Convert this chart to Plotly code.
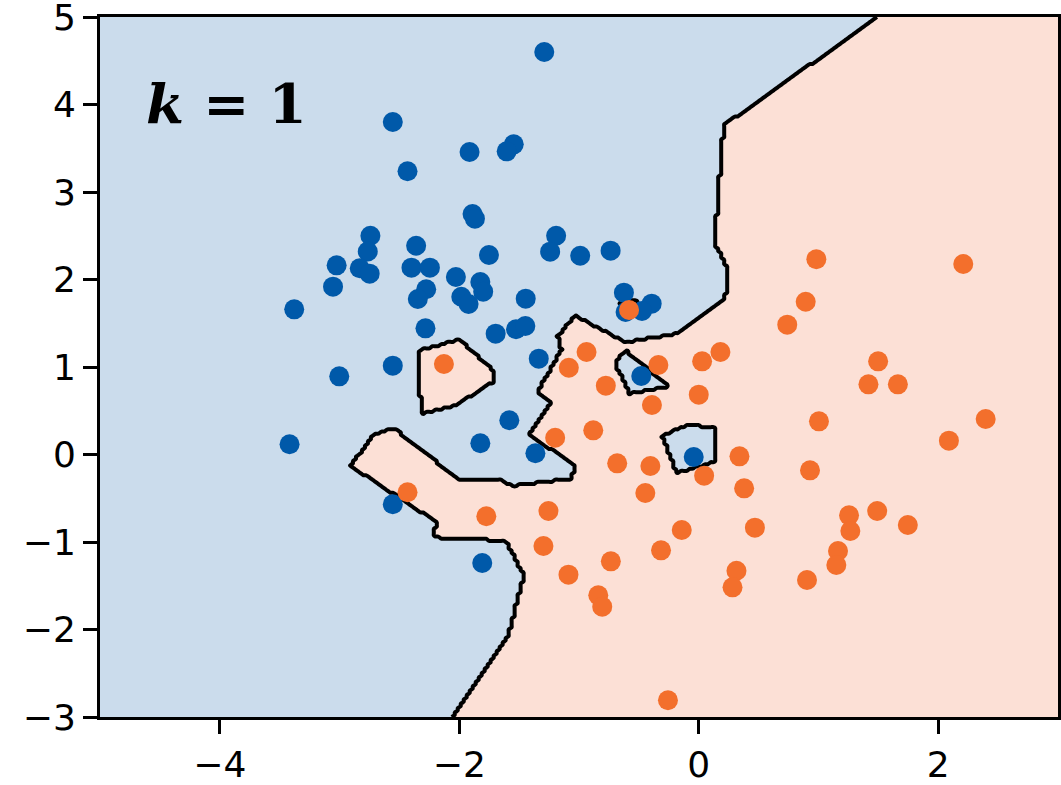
import numpy as np
import plotly.graph_objects as go

# Class 0 (blue) points
blue_x = [-1.29, -2.555, -1.914, -1.545, -1.604, -2.432, -1.889, -1.869, -2.742, -2.764,
          -1.191, -1.241, -0.99, -0.736, -2.36, -1.752, -3.024, -2.831, -2.748, -2.399,
          -2.245, -2.028, -1.824, -1.80, -3.054, -2.276, -2.346, -1.983, -1.922, -1.445,
          -3.378, -0.625, -2.282, -1.696, -1.526, -1.448, -0.393, -0.474, -0.611, -1.336,
          -1.582, -1.364, -0.48, -0.042, -2.555, -3.002, -3.417, -1.824, -2.555, -1.808]
blue_y = [4.60, 3.80, 3.457, 3.545, 3.465, 3.237, 2.749, 2.695, 2.50, 2.32,
          2.50, 2.318, 2.272, 2.33, 2.386, 2.28, 2.162, 2.128, 2.067, 2.135,
          2.135, 2.029, 1.971, 1.861, 1.918, 1.888, 1.777, 1.803, 1.72, 1.781,
          1.659, 1.85, 1.442, 1.381, 1.431, 1.469, 1.724, 1.64, 1.629, 1.095,
          0.391, 0.014, 0.897, -0.029, 1.015, 0.893, 0.117, 0.128, -0.569, -1.24]

# Class 1 (orange) points
orange_x = [-0.582, -0.937, -1.085, -0.776, -0.337, 0.028, 0.181, 0.0, -0.391, -0.881,
            -1.199, -0.681, -0.404, 0.34, 0.045, 0.379, -0.446, -1.255, -0.142, 0.469,
            -1.297, -1.088, -0.734, -0.839, -0.806, -0.315, 0.315, 0.282, -0.257, 0.982,
            2.209, 0.893, 0.739, 1.498, 1.417, 1.663, 1.004, 2.396, 2.089, 0.929,
            1.255, 1.266, 1.49, 1.746, 1.163, 1.149, 0.904, -2.128, -2.432, -1.774]
orange_y = [1.651, 1.171, 0.992, 0.787, 1.023, 1.065, 1.171, 0.684, 0.566, 0.276,
            0.192, -0.101, -0.131, -0.021, -0.242, -0.387, -0.44, -0.646, -0.863, -0.836,
            -1.046, -1.373, -1.221, -1.609, -1.739, -1.095, -1.328, -1.518, -2.809, 2.231,
            2.177, 1.746, 1.484, 1.065, 0.802, 0.802, 0.379, 0.406, 0.158, -0.181,
            -0.695, -0.874, -0.646, -0.806, -1.103, -1.263, -1.434, 1.034, -0.432, -0.706]

k = 1
x_range = [-5, 3]
y_range = [-3, 5]
x_ticks = [-4, -2, 0, 2]
y_ticks = [-3, -2, -1, 0, 1, 2, 3, 4, 5]

BLUE = "#0059A9"
ORANGE = "#F36F2C"
BLUE_BG = "#CBDCEC"
ORANGE_BG = "#FCE0D6"

# k-NN decision grid computed from the data
px_ = np.concatenate([blue_x, orange_x])
py_ = np.concatenate([blue_y, orange_y])
lab = np.concatenate([np.zeros(len(blue_x)), np.ones(len(orange_x))])
gx = np.linspace(x_range[0], x_range[1], 321)
gy = np.linspace(y_range[0], y_range[1], 321)
GX, GY = np.meshgrid(gx, gy)
d = (GX[..., None] - px_) ** 2 + (GY[..., None] - py_) ** 2
idx = np.argsort(d, axis=-1)[..., :k]
Z = (lab[idx].mean(axis=-1) > 0.5).astype(float)

fig = go.Figure()
fig.add_trace(go.Contour(x=gx, y=gy, z=Z, zmin=0, zmax=1, showscale=False,
                         colorscale=[[0, BLUE_BG], [0.5, BLUE_BG], [0.5, ORANGE_BG], [1, ORANGE_BG]],
                         contours=dict(start=0.5, end=0.5, size=1, coloring="fill"),
                         line=dict(color="black", width=4, smoothing=0.8), hoverinfo="skip"))
fig.add_trace(go.Scatter(x=blue_x, y=blue_y, mode="markers",
                         marker=dict(color=BLUE, size=20, line=dict(width=0)), showlegend=False))
fig.add_trace(go.Scatter(x=orange_x, y=orange_y, mode="markers",
                         marker=dict(color=ORANGE, size=20, line=dict(width=0)), showlegend=False))

axis_common = dict(showgrid=False, zeroline=False, showline=True, linecolor="black", linewidth=3,
                   mirror=True, ticks="outside", ticklen=14, tickwidth=3, tickcolor="black",
                   ticklabeloverflow="allow", automargin=False,
                   tickfont=dict(family="DejaVu Sans", size=36, color="black"))
fig.update_xaxes(range=x_range, tickvals=x_ticks, **axis_common)
fig.update_yaxes(range=y_range, tickvals=y_ticks, **axis_common)

fig.add_annotation(x=0.046, y=0.876, xref="paper", yref="paper", xanchor="left", yanchor="middle",
                   text="<b><i>k</i> = 1</b>", showarrow=False,
                   font=dict(family="DejaVu Serif", size=55, color="black"))

fig.update_layout(width=1061, height=785, margin=dict(l=100, r=3, t=17, b=68),
                  plot_bgcolor="white", paper_bgcolor="white", showlegend=False)
fig.write_html("out.html")
